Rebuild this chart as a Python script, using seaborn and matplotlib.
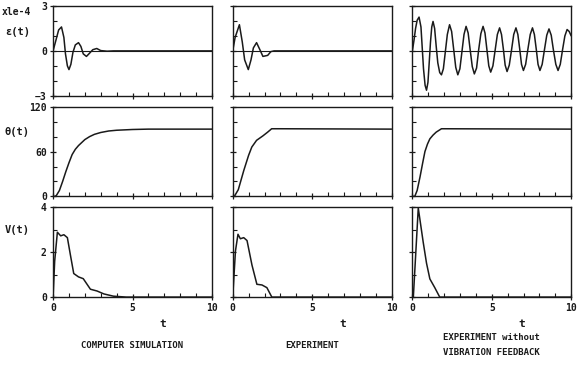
import numpy as np
import pandas as pd
import seaborn as sns
import matplotlib.pyplot as plt
from matplotlib.ticker import MultipleLocator

# strain eps(t) x1e-4
t_eps_sim = [0, 0.2, 0.35, 0.53, 0.68, 0.78, 0.9, 1.0, 1.12, 1.25, 1.4, 1.6, 1.75, 1.9,
             2.1, 2.3, 2.5, 2.75, 3.0, 3.4, 3.8, 10]
eps_sim = [0, 0.8, 1.4, 1.6, 0.9, -0.2, -1.0, -1.25, -0.9, -0.1, 0.4, 0.55, 0.3, -0.2,
           -0.37, -0.15, 0.08, 0.16, 0.02, -0.02, 0, 0]

t_eps_exp = [0, 0.15, 0.42, 0.6, 0.75, 0.98, 1.15, 1.3, 1.5, 1.7, 1.9, 2.2, 2.4, 2.6, 10]
eps_exp = [0, 0.9, 1.75, 0.6, -0.6, -1.25, -0.6, 0.2, 0.55, 0.1, -0.37, -0.3, -0.05, 0, 0]

t_eps_nofb = [0, 0.1, 0.2, 0.3, 0.42, 0.54, 0.62, 0.7, 0.8, 0.89, 0.98, 1.07, 1.14, 1.22,
              1.3, 1.4, 1.5, 1.6, 1.72, 1.83, 1.95, 2.07, 2.2, 2.34, 2.47, 2.6, 2.73,
              2.86, 2.99, 3.12, 3.25, 3.38, 3.51, 3.64, 3.77, 3.9, 4.04, 4.17, 4.31,
              4.45, 4.57, 4.69, 4.81, 4.93, 5.07, 5.21, 5.35, 5.49, 5.61, 5.73, 5.84,
              5.96, 6.1, 6.24, 6.38, 6.52, 6.64, 6.76, 6.87, 6.99, 7.13, 7.27, 7.42,
              7.56, 7.68, 7.8, 7.91, 8.03, 8.17, 8.31, 8.46, 8.6, 8.74, 8.88, 9.03,
              9.17, 9.31, 9.45, 9.6, 9.74, 9.87, 10]
eps_nofb = [0, 0.7, 1.5, 2.05, 2.26, 1.6, 0.2, -1.2, -2.3, -2.63, -2.1, -0.6, 0.6, 1.6,
            1.97, 1.5, 0.3, -0.8, -1.45, -1.6, -1.2, -0.1, 1.1, 1.75, 1.3, 0.1, -1.1,
            -1.6, -1.2, -0.05, 1.1, 1.64, 1.2, 0.05, -1.05, -1.54, -1.15, 0.05, 1.15,
            1.64, 1.2, 0.1, -1.0, -1.42, -1.0, 0.05, 1.1, 1.54, 1.1, 0.1, -0.95,
            -1.38, -0.95, 0.05, 1.1, 1.54, 1.1, 0.1, -0.9, -1.31, -0.9, 0.1, 1.1,
            1.54, 1.1, 0.1, -0.9, -1.31, -0.9, 0.05, 1.05, 1.47, 1.05, 0.05, -0.9,
            -1.31, -0.9, 0.05, 1.0, 1.43, 1.3, 1.0]

# angle theta(t), deg
t_th_sim = [0, 0.1, 0.2, 0.4, 0.6, 0.8, 1.0, 1.2, 1.4, 1.6, 1.8, 2.0, 2.3, 2.6, 3.0,
            3.5, 4.0, 5.0, 6.0, 10]
th_sim = [0, 0, 1, 8, 20, 33, 45, 56, 63, 68, 72, 76, 80, 83, 85.5, 87.5, 88.5, 89.5,
          90, 90]

t_th_exp = [0, 0.1, 0.35, 0.7, 1.0, 1.2, 1.5, 1.9, 2.2, 2.45, 3.0, 10]
th_exp = [0, 0, 9, 35, 55, 66, 75, 81, 86, 90.5, 90.5, 90]

t_th_nofb = [0, 0.15, 0.3, 0.48, 0.65, 0.79, 0.95, 1.1, 1.3, 1.5, 1.83, 10]
th_nofb = [0, 0, 8, 26, 45, 60, 70, 77, 82, 86, 90.5, 90]

# voltage V(t)
t_v_sim = [0, 0.1, 0.27, 0.48, 0.68, 0.9, 1.1, 1.3, 1.6, 1.9, 2.35, 2.77, 3.2, 3.8,
           4.6, 10]
v_sim = [0, 1.6, 2.89, 2.73, 2.78, 2.65, 1.84, 1.05, 0.9, 0.82, 0.35, 0.27, 0.14, 0.04,
         0, 0]

t_v_exp = [0, 0.17, 0.33, 0.48, 0.69, 0.9, 1.21, 1.52, 1.84, 2.15, 2.46, 10]
v_exp = [0, 2.05, 2.8, 2.6, 2.65, 2.52, 1.43, 0.57, 0.54, 0.42, 0, 0]

t_v_nofb = [0, 0.06, 0.37, 0.68, 0.89, 1.1, 1.41, 1.72, 10]
v_nofb = [0, 0, 3.97, 2.45, 1.51, 0.81, 0.42, 0, 0]

titles = ["COMPUTER SIMULATION", "EXPERIMENT", "EXPERIMENT without\nVIBRATION FEEDBACK"]

rows = [
    [(t_eps_sim, eps_sim), (t_eps_exp, eps_exp), (t_eps_nofb, eps_nofb)],
    [(t_th_sim, th_sim), (t_th_exp, th_exp), (t_th_nofb, th_nofb)],
    [(t_v_sim, v_sim), (t_v_exp, v_exp), (t_v_nofb, v_nofb)],
]
ylims = [(-3, 3), (0, 120), (0, 4)]
ymajor = [3, 60, 2]
yminor = [1, 20, 1]

sns.set_theme(style="white")
plt.rcParams['font.family'] = ['DejaVu Sans Mono', 'DejaVu Sans']
plt.rcParams['font.weight'] = 'bold'
ink = "#1a1a1a"

fig, axes = plt.subplots(3, 3, figsize=(5.77, 3.77), dpi=100)
fig.subplots_adjust(left=0.092, right=0.99, top=0.984, bottom=0.212,
                    wspace=0.131, hspace=0.122)

for r in range(3):
    for c in range(3):
        ax = axes[r, c]
        t, v = rows[r][c]
        df = pd.DataFrame({"t": t, "v": v})
        sns.lineplot(data=df, x="t", y="v", ax=ax, color=ink, lw=1.1, estimator=None)
        if r == 0:
            ax.axhline(0, color=ink, lw=0.8)
        ax.set_xlim(0, 10)
        ax.set_ylim(*ylims[r])
        ax.xaxis.set_major_locator(MultipleLocator(5))
        ax.xaxis.set_minor_locator(MultipleLocator(1))
        ax.yaxis.set_major_locator(MultipleLocator(ymajor[r]))
        ax.yaxis.set_minor_locator(MultipleLocator(yminor[r]))
        ax.tick_params(which="both", bottom=True, left=True, top=False, right=False)
        ax.tick_params(which="major", direction="inout", length=5, width=0.9,
                       color=ink, labelsize=7, pad=2, labelcolor=ink)
        ax.tick_params(which="minor", direction="in", length=3, width=0.8, color=ink)
        for s in ax.spines.values():
            s.set_color(ink)
            s.set_linewidth(1.0)
        ax.set_xlabel("")
        ax.set_ylabel("")
        if r < 2:
            ax.set_xticklabels([])
        else:
            ax.set_xlabel("t", fontsize=8, fontweight="bold", color=ink)
            ax.xaxis.set_label_coords(0.69, -0.24)
        if c > 0:
            ax.set_yticklabels([])

for c, ttl in enumerate(titles):
    pos = axes[2, c].get_position()
    fig.text((pos.x0 + pos.x1) / 2, 1 - 345 / 377, ttl, ha="center", va="center",
             fontsize=6.5, fontweight="bold", color=ink, linespacing=1.9)

fig.text(0.003, 1 - 12 / 377, "xle-4", fontsize=7, fontweight="bold", color=ink,
         va="center", ha="left")
fig.text(0.03, 1 - 32 / 377, "ε(t)", fontsize=7.5, fontweight="bold", color=ink,
         va="center", ha="center")
fig.text(0.03, 1 - 132 / 377, "θ(t)", fontsize=7.5, fontweight="bold", color=ink,
         va="center", ha="center")
fig.text(0.03, 1 - 230 / 377, "V(t)", fontsize=7.5, fontweight="bold", color=ink,
         va="center", ha="center")

fig.savefig("out.png", dpi=100, facecolor="white")
